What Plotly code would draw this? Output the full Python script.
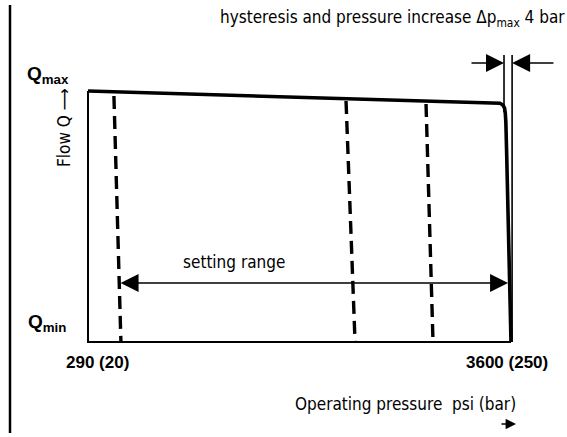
import plotly.graph_objects as go

W, H = 567, 437

# Operating pressure in bar, flow normalised (Q_min = 0, Q_max = 1)
flow_curve_bar = [20, 241.8, 244.0, 245.6, 246.5, 246.9, 247.2, 247.6, 250.0]
flow_curve_q = [1.0, 0.954, 0.951, 0.944, 0.932, 0.912, 0.876, 0.765, 0.0]

# Dashed control lines inside the setting range: (bar at top, bar at bottom, Q at top)
dash_top_bar = [34.1, 160.3, 203.8]
dash_bottom_bar = [37.9, 165.2, 207.6]
dash_top_q = [0.980, 0.960, 0.948]

# Frame of the diagram
frame_bar = [20, 20, 250]
frame_q = [1.0, 0.0, 0.0]

# Hysteresis marks
hyst_left_bar = 246.2
hyst_right_bar = 250.6
hyst_top_q = 1.143
hyst_left_bottom_q = 0.915
hyst_arrow_q = 1.112
hyst_left_tail = 227.7
hyst_right_tail = 273.9

# Setting range arrow
setting_from_bar = 36.9
setting_to_bar = 248.4
setting_q = 0.235

x_range = [-27.85, 280.45]
y_range = [-0.3785, 1.3625]

NARROW = "Liberation Sans Narrow, Arial Narrow, DejaVu Sans Condensed, sans-serif"
BOLD = "Liberation Sans, Arial, sans-serif"


def px(x):
    return x / W


def py(y):
    return 1 - y / H


fig = go.Figure()

fig.add_trace(go.Scatter(x=frame_bar, y=frame_q, mode="lines",
                         line=dict(color="black", width=2), hoverinfo="skip"))

for xt, xb, qt in zip(dash_top_bar, dash_bottom_bar, dash_top_q):
    fig.add_trace(go.Scatter(x=[xt, xb], y=[qt, 0], mode="lines",
                             line=dict(color="black", width=3.4, dash="13px,7px"),
                             hoverinfo="skip"))

fig.add_trace(go.Scatter(x=[hyst_left_bar, hyst_left_bar], y=[hyst_top_q, hyst_left_bottom_q],
                         mode="lines", line=dict(color="black", width=1.6), hoverinfo="skip"))
fig.add_trace(go.Scatter(x=[hyst_right_bar, hyst_right_bar], y=[hyst_top_q, 0],
                         mode="lines", line=dict(color="black", width=1.6), hoverinfo="skip"))

fig.add_trace(go.Scatter(x=flow_curve_bar, y=flow_curve_q, mode="lines",
                         line=dict(color="black", width=3.6), hoverinfo="skip"))

arrow_common = dict(xref="x", yref="y", axref="x", ayref="y", text="",
                    showarrow=True, arrowcolor="black", arrowhead=2,
                    arrowsize=2.4, arrowwidth=1.5)

fig.add_annotation(x=hyst_left_bar, y=hyst_arrow_q, ax=hyst_left_tail, ay=hyst_arrow_q,
                   **arrow_common)
fig.add_annotation(x=hyst_right_bar, y=hyst_arrow_q, ax=hyst_right_tail, ay=hyst_arrow_q,
                   **arrow_common)
fig.add_annotation(x=setting_to_bar, y=setting_q, ax=setting_from_bar, ay=setting_q,
                   arrowside="end+start", **arrow_common)

texts = [
    ("hysteresis and pressure increase Δp<sub>max</sub> 4 bar", 392, 19, NARROW, 17, 0),
    ("setting range", 234, 262, NARROW, 17, 0),
    ("<b>Q<sub>max</sub></b>", 48, 75, BOLD, 19, 0),
    ("<b>Q<sub>min</sub></b>", 47, 323, BOLD, 19, 0),
    ("<b>290 (20)</b>", 97, 362, BOLD, 17, 0),
    ("<b>3600 (250)</b>", 507, 362, BOLD, 17, 0),
    ("Operating pressure  psi (bar)", 405, 404, NARROW, 17, 0),
    ("Flow Q ⟶", 64, 128, NARROW, 17, -90),
]
for t, x, y, fam, size, ang in texts:
    fig.add_annotation(xref="paper", yref="paper", x=px(x), y=py(y), text=t,
                       showarrow=False, xanchor="center", yanchor="middle",
                       textangle=ang, font=dict(family=fam, size=size, color="black"))

# direction arrow under the pressure label
fig.add_annotation(xref="paper", yref="paper", x=px(516), y=py(424), ax=-16, ay=0,
                   text="", showarrow=True, arrowcolor="black", arrowhead=2,
                   arrowsize=1.3, arrowwidth=1.6)

fig.add_shape(type="line", xref="paper", yref="paper",
              x0=px(10), x1=px(10), y0=py(5), y1=py(433),
              line=dict(color="black", width=2.5))

fig.update_xaxes(range=x_range, visible=False, fixedrange=True)
fig.update_yaxes(range=y_range, visible=False, fixedrange=True)
fig.update_layout(width=W, height=H, margin=dict(l=0, r=0, t=0, b=0),
                  showlegend=False, plot_bgcolor="white", paper_bgcolor="white")

fig.write_html("out.html")
